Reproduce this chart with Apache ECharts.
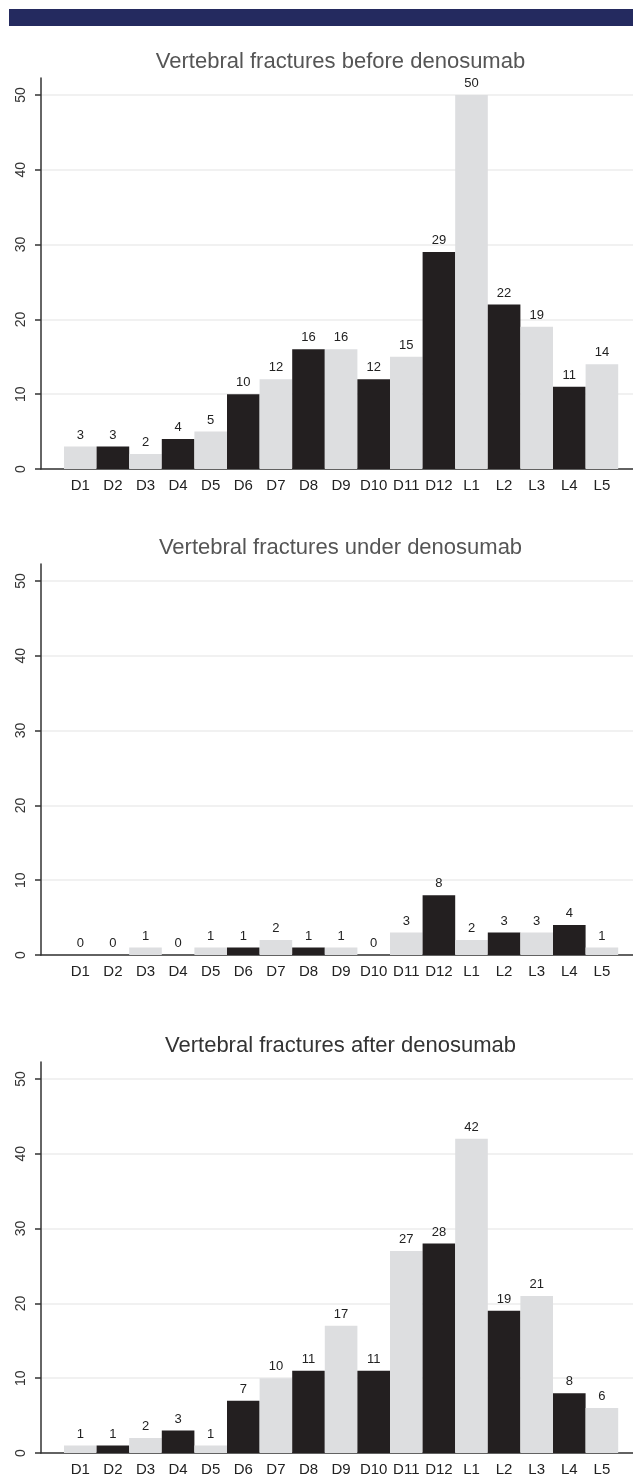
<!DOCTYPE html>
<html>
<head>
<meta charset="utf-8">
<script src="https://cdn.jsdelivr.net/npm/echarts@6/dist/echarts.min.js"></script>
<style>
html,body{margin:0;padding:0;background:#fff;}
#chart{width:633px;height:1479px;}
</style>
</head>
<body>
<div id="chart"></div>
<script>
const categories = ['D1','D2','D3','D4','D5','D6','D7','D8','D9','D10','D11','D12','L1','L2','L3','L4','L5'];
const beforeValues = [3,3,2,4,5,10,12,16,16,12,15,29,50,22,19,11,14];
const underValues  = [0,0,1,0,1,1,2,1,1,0,3,8,2,3,3,4,1];
const afterValues  = [1,1,2,3,1,7,10,11,17,11,27,28,42,19,21,8,6];
const titles = ['Vertebral fractures before denosumab','Vertebral fractures under denosumab','Vertebral fractures after denosumab'];
const yTicks = [0,10,20,30,40,50];
const yMax = 52.27;

const FONT = '"Liberation Sans", Arial, Helvetica, sans-serif';
const panels = [
  {values: beforeValues, top: 78, titleColor: '#555'},
  {values: underValues, top: 564, titleColor: '#555'},
  {values: afterValues, top: 1062, titleColor: '#333'}
];
const H = 391;

const grid = [], xAxis = [], yAxis = [], series = [], graphic = [];
graphic.push({type:'rect', shape:{x:9, y:9, width:624, height:17}, style:{fill:'#242a5f'}});

panels.forEach((p, i) => {
  const gA = grid.length;
  grid.push({left: 41, right: 0, top: p.top, height: H, containLabel: false});
  grid.push({left: 64, right: 14.8, top: p.top, height: H, containLabel: false});
  xAxis.push({type:'value', gridIndex: gA, min:0, max:1,
    axisLine:{show:true, onZero:false, lineStyle:{color:'#333', width:1.5}},
    axisTick:{show:false}, axisLabel:{show:false}, splitLine:{show:false}});
  yAxis.push({type:'value', gridIndex: gA, min:0, max:yMax,
    axisLine:{show:true, onZero:false, lineStyle:{color:'#333', width:1.5}},
    axisTick:{show:true, length:6, customValues: yTicks, lineStyle:{color:'#333', width:1.5}},
    axisLabel:{show:true, customValues: yTicks, rotate:90, margin:13, fontSize:14, color:'#333', fontFamily: FONT},
    splitLine:{show:true, lineStyle:{color:'#ececec', width:1.5}}});
  xAxis.push({type:'category', gridIndex: gA+1, data: categories,
    axisLine:{show:false}, axisTick:{show:false},
    axisLabel:{interval:0, margin:9, fontSize:15, color:'#222', fontFamily: FONT},
    splitLine:{show:false}});
  yAxis.push({type:'value', gridIndex: gA+1, min:0, max:yMax, show:false, splitLine:{show:false}});
  series.push({
    type:'bar', xAxisIndex: gA+1, yAxisIndex: gA+1,
    data: p.values, barCategoryGap:'0%', barGap:'0%',
    itemStyle:{color: (d) => d.dataIndex % 2 === 0 ? '#dddee0' : '#231f20'},
    label:{show:true, position:'top', distance:5, fontSize:13, color:'#222', fontFamily: FONT},
    emphasis:{disabled:true},
    silent:true, animation:false
  });
  graphic.push({type:'text', x: 340.5, y: p.top - 16,
    style:{text: titles[i], fill: p.titleColor, font: '22px ' + FONT, align:'center', verticalAlign:'middle'}});
});

const chart = echarts.init(document.getElementById('chart'), null, {renderer:'canvas'});
chart.setOption({
  animation:false,
  backgroundColor:'#fff',
  grid, xAxis, yAxis, series, graphic
});
</script>
</body>
</html>
